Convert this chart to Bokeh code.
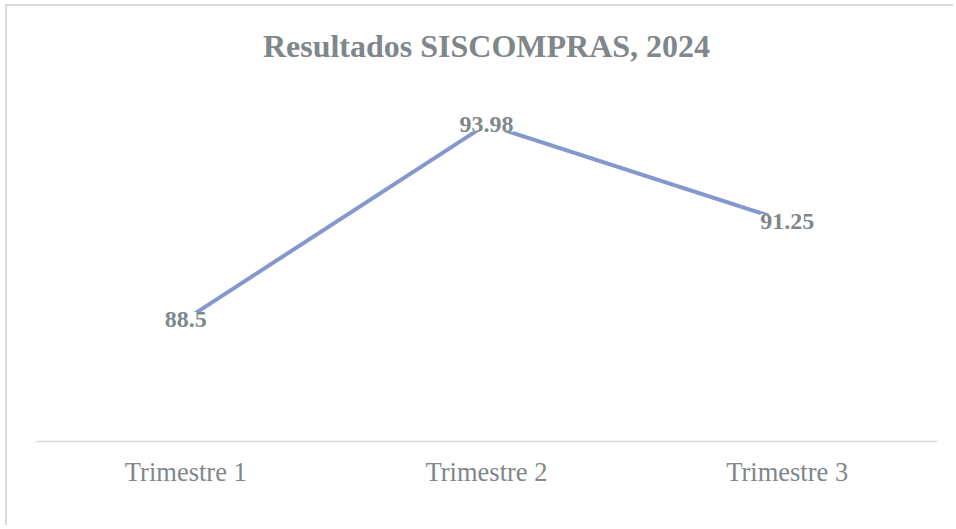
from bokeh.plotting import figure
from bokeh.models import ColumnDataSource, LabelSet, Range1d
from bokeh.embed import file_html
from bokeh.resources import INLINE

categories = ["Trimestre 1", "Trimestre 2", "Trimestre 3"]
values = [88.5, 93.98, 91.25]
value_labels = ["88.5", "93.98", "91.25"]

GRAY = "#7f878b"
LINE = "#8497cf"
SERIF = "Liberation Serif"

src = ColumnDataSource(dict(x=categories, y=values, lbl=value_labels))

p = figure(x_range=categories, y_range=Range1d(85.07, 95.1),
           width=948, height=521, output_backend="svg", toolbar_location=None,
           min_border_left=28, min_border_right=18, min_border_top=78, min_border_bottom=86,
           title="Resultados SISCOMPRAS, 2024")

p.title.align = "center"
p.title.vertical_align = "top"
p.title.text_font = SERIF
p.title.text_font_size = "32px"
p.title.text_font_style = "bold"
p.title.text_color = GRAY
p.title.standoff = 38

p.line("x", "y", source=src, line_width=4, line_color=LINE, line_cap="round")

labels = LabelSet(x="x", y="y", text="lbl", source=src, text_align="center",
                  text_baseline="middle", text_font=SERIF, text_font_size="24px",
                  text_font_style="bold", text_color=GRAY,
                  background_fill_color="white")
p.add_layout(labels)

p.yaxis.visible = False
p.xgrid.grid_line_color = None
p.ygrid.grid_line_color = None
p.outline_line_color = None

ax = p.xaxis[0]
ax.axis_line_color = "#d9d9d9"
ax.axis_line_width = 1.5
ax.major_tick_line_color = None
ax.minor_tick_line_color = None
ax.major_tick_in = 0
ax.major_tick_out = 0
ax.major_label_standoff = 15
ax.major_label_text_font = SERIF
ax.major_label_text_font_size = "26.5px"
ax.major_label_text_color = GRAY
ax.major_label_text_font_style = "normal"

p.styles = {"border-top": "2px solid #d9d9d9", "border-left": "2px solid #d9d9d9",
            "margin-left": "5px", "margin-top": "4px"}

open("out.html", "w").write(file_html(p, INLINE))
